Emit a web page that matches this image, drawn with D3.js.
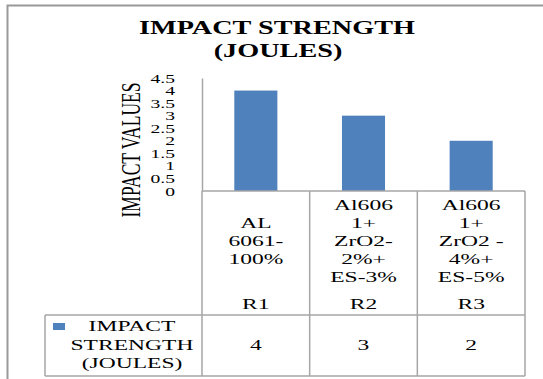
<!DOCTYPE html>
<html>
<head>
<meta charset="utf-8">
<script src="https://cdn.jsdelivr.net/npm/d3@7"></script>
<style>
  body { margin: 0; background: #fff; }
</style>
</head>
<body>
<svg id="chart" width="543" height="379"></svg>
<script>
// chart data
var categories = ["R1", "R2", "R3"];
var categoryLabels = [
  ["AL", "6061-", "100%"],
  ["Al606", "1+", "ZrO2-", "2%+", "ES-3%"],
  ["Al606", "1+", "ZrO2 -", "4%+", "ES-5%"]
];
var values = [4, 3, 2];
var seriesName = ["IMPACT", "STRENGTH", "(JOULES)"];
var yTicks = [0, 0.5, 1, 1.5, 2, 2.5, 3, 3.5, 4, 4.5];
var title = ["IMPACT STRENGTH", "(JOULES)"];
var yTitle = "IMPACT VALUES";

var SX = 1.57; // the picture is stretched sideways
var FONT = "'Liberation Serif', 'DejaVu Serif', serif";
var barColor = "#4f81bd",
    lineColor = "#a6a6a6";

var svg = d3.select("#chart");

var plot = {left: 202, right: 525, top: 78, bottom: 191},
    tableRow = 315, tableBottom = 376, tableLeft = 45;

var x = d3.scaleBand().domain(categories).range([plot.left, plot.right]).paddingInner(0).paddingOuter(0),
    y = d3.scaleLinear().domain([0, 4.5]).range([plot.bottom, plot.top]);

function stretchText(sel, px, py, str) {
  return sel.append("text")
    .attr("transform", "translate(" + px + "," + py + ") scale(" + SX + ",1)")
    .style("font-family", FONT)
    .attr("fill", "#000")
    .text(str);
}

// outer frame (top + left only)
svg.append("path")
  .attr("d", "M7.5,379 V5.5 H543")
  .attr("fill", "none")
  .attr("stroke", "#999")
  .attr("stroke-width", 2);

// title
stretchText(svg, 277, 34, title[0]).attr("text-anchor", "middle")
  .style("font-size", "18px").style("font-weight", "bold");
stretchText(svg, 278, 57, title[1]).attr("text-anchor", "middle")
  .style("font-size", "18px").style("font-weight", "bold");

// y axis
var yAxis = svg.append("g")
  .attr("transform", "translate(" + plot.left + ",0)")
  .call(d3.axisLeft(y).tickValues(yTicks).tickSize(0).tickPadding(27).tickFormat(function(d) { return String(d); }));
yAxis.select(".domain").attr("stroke", lineColor).attr("stroke-width", 1.5);
yAxis.selectAll(".tick text")
  .attr("x", -27 / SX)
  .attr("transform", "scale(" + SX + ",1)")
  .attr("fill", "#000")
  .style("font-family", FONT)
  .style("font-size", "12.5px");

// y title
svg.append("text")
  .attr("transform", "translate(130,150) scale(" + SX + ",1) rotate(-90)")
  .attr("text-anchor", "middle")
  .attr("dy", "0.35em")
  .style("font-family", FONT)
  .style("font-size", "17.5px")
  .text(yTitle);

// bars
svg.selectAll(".bar")
  .data(values)
  .enter().append("rect")
    .attr("class", "bar")
    .attr("x", function(d, i) { return x(categories[i]) + x.bandwidth() * 0.3; })
    .attr("width", x.bandwidth() * 0.4)
    .attr("y", function(d) { return y(d); })
    .attr("height", function(d) { return y(0) - y(d); })
    .attr("fill", barColor);

// table lines
var grid = svg.append("g")
  .attr("fill", "none")
  .attr("stroke", lineColor)
  .attr("stroke-width", 1.5);
grid.append("line").attr("x1", plot.left).attr("x2", plot.right).attr("y1", y(0)).attr("y2", y(0));
grid.append("line").attr("x1", tableLeft).attr("x2", plot.right).attr("y1", tableRow).attr("y2", tableRow);
grid.append("line").attr("x1", tableLeft).attr("x2", plot.right).attr("y1", tableBottom).attr("y2", tableBottom);
grid.append("line").attr("x1", tableLeft).attr("x2", tableLeft).attr("y1", tableRow).attr("y2", tableBottom);
grid.append("line").attr("x1", plot.left).attr("x2", plot.left).attr("y1", y(0)).attr("y2", tableBottom);
grid.selectAll(".sep")
  .data(categories)
  .enter().append("line")
    .attr("x1", function(d) { return x(d) + x.bandwidth(); })
    .attr("x2", function(d) { return x(d) + x.bandwidth(); })
    .attr("y1", y(0))
    .attr("y2", tableBottom);

// category labels
var lineH = 18, labelMid = 240.5;
categories.forEach(function(c, i) {
  var cx = x(c) + x.bandwidth() / 2,
      lines = categoryLabels[i],
      y0 = labelMid - (lines.length - 1) * lineH / 2;
  lines.forEach(function(s, j) {
    stretchText(svg, cx, y0 + j * lineH, s)
      .attr("text-anchor", "middle").attr("dy", "0.35em")
      .style("font-size", "15px");
  });
  stretchText(svg, cx, 303.5, c)
    .attr("text-anchor", "middle").attr("dy", "0.35em")
    .style("font-size", "15px");
});

// legend cell
svg.append("rect")
  .attr("x", 53).attr("y", 323)
  .attr("width", 12).attr("height", 7)
  .attr("fill", barColor);
seriesName.forEach(function(s, j) {
  stretchText(svg, 132, 326 + j * 18.5, s)
    .attr("text-anchor", "middle").attr("dy", "0.35em")
    .style("font-size", "15px");
});

// values row
svg.selectAll(".val")
  .data(values)
  .enter().append("text")
    .attr("class", "val")
    .attr("transform", function(d, i) { return "translate(" + (x(categories[i]) + x.bandwidth() / 2) + ",345) scale(" + SX + ",1)"; })
    .attr("text-anchor", "middle")
    .attr("dy", "0.35em")
    .style("font-family", FONT)
    .style("font-size", "15px")
    .text(function(d) { return d; });
</script>
</body>
</html>
